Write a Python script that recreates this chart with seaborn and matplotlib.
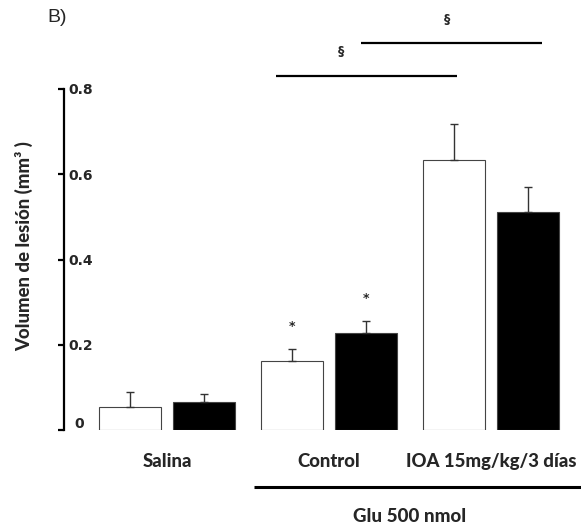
import matplotlib
matplotlib.use("Agg")
import matplotlib.pyplot as plt
from matplotlib.transforms import ScaledTranslation
import seaborn as sns
import pandas as pd

# ---- data ----
grupos = ["Salina", "Control", "IOA 15mg/kg/3 días"]
series = ["serie_1", "serie_2"]
valores_serie_1 = [0.055, 0.162, 0.633]
valores_serie_2 = [0.066, 0.227, 0.511]
error_serie_1 = [0.033, 0.029, 0.086]
error_serie_2 = [0.018, 0.029, 0.058]
yticks = [0, 0.2, 0.4, 0.6, 0.8]
ytick_labels = ["0", "0.2", "0.4", "0.6", "0.8"]
ylabel = "Volumen de lesión (mm\u00b3 )"
subgrupo = "Glu 500 nmol"
panel = "B)"

df = pd.DataFrame({
    "grupo": grupos * 2,
    "serie": [series[0]] * 3 + [series[1]] * 3,
    "volumen": valores_serie_1 + valores_serie_2,
    "error": error_serie_1 + error_serie_2,
})

sns.set_style("white")
plt.rcParams["font.family"] = ["Lato", "DejaVu Sans"]
HEAVY = "black"

W, H = 581, 529
fig = plt.figure(figsize=(W / 100, H / 100), dpi=100)
ax = fig.add_axes([64 / W, 99 / H, 517 / W, 426.25 / H])

sns.barplot(data=df, x="grupo", y="volumen", hue="serie", order=grupos,
            hue_order=series, palette={series[0]: "white", series[1]: "black"},
            width=0.914, gap=0.162, edgecolor="#444444", linewidth=0.8,
            errorbar=None, legend=False, ax=ax)

ax.set_xlim(-0.636, 2.556)
ax.set_ylim(0, 1.0)

# error bars (upper only), matched to bars by height
for p in ax.patches:
    h = p.get_height()
    row = df.iloc[(df["volumen"] - h).abs().argsort().iloc[0]]
    xc = p.get_x() + p.get_width() / 2
    ax.errorbar([xc], [h], yerr=[[0], [row["error"]]], fmt="none",
                ecolor="#333333", elinewidth=1.0, capsize=2.9, capthick=1.0,
                zorder=1)
    if row["grupo"] == "Control":
        ax.text(xc, h + row["error"] + 0.052, "*", ha="center", va="center",
                fontsize=9, fontweight="bold", family="DejaVu Sans")

# axes styling
for s in ["top", "right", "bottom"]:
    ax.spines[s].set_visible(False)
ax.spines["left"].set_linewidth(1.6)
ax.spines["left"].set_color("black")
ax.spines["left"].set_bounds(0, 0.8)
ax.set_yticks(yticks)
ax.set_yticklabels(ytick_labels, fontsize=10, fontweight="bold",
                   family="DejaVu Sans", ha="left")
ax.tick_params(axis="y", direction="out", length=4.3, width=1.6,
               color="black", pad=-7.6, left=True)
lab0 = ax.get_yticklabels()[0]
lab0.set_transform(lab0.get_transform() +
                   ScaledTranslation(0.06, 0.08, fig.dpi_scale_trans))

ax.set_xticks([0, 1, 2])
ax.set_xticklabels(grupos, fontsize=13.3, fontweight=HEAVY, va="center")
ax.tick_params(axis="x", length=0, pad=23)
ax.set_xlabel("")

ax.set_ylabel(ylabel, fontsize=13.3, fontweight=HEAVY)
ax.yaxis.label.set_verticalalignment("center")
ax.yaxis.set_label_coords(-0.0774, 0.4317)

# Glu line and label
ax.plot([0.537, 2.556], [-0.134, -0.134], color="black", lw=2.2,
        clip_on=False, solid_capstyle="butt")
ax.text(1.5, -0.204, subgrupo, ha="center", va="center", fontsize=13.5,
        fontweight=HEAVY)

# significance brackets
ax.plot([0.673, 1.790], [0.8305, 0.8305], color="black", lw=1.6,
        clip_on=False, solid_capstyle="butt")
ax.text(1.074, 0.887, "§", ha="center", va="center", fontsize=9,
        fontweight="bold", family="DejaVu Sans")
ax.plot([1.198, 2.315], [0.9086, 0.9086], color="black", lw=1.6,
        clip_on=False, solid_capstyle="butt")
ax.text(1.728, 0.962, "§", ha="center", va="center", fontsize=9,
        fontweight="bold", family="DejaVu Sans")

fig.text(47 / W, 1 - 18 / H, panel, ha="left", va="center", fontsize=14,
         family="Liberation Sans")

fig.savefig("out.png", dpi=100)
